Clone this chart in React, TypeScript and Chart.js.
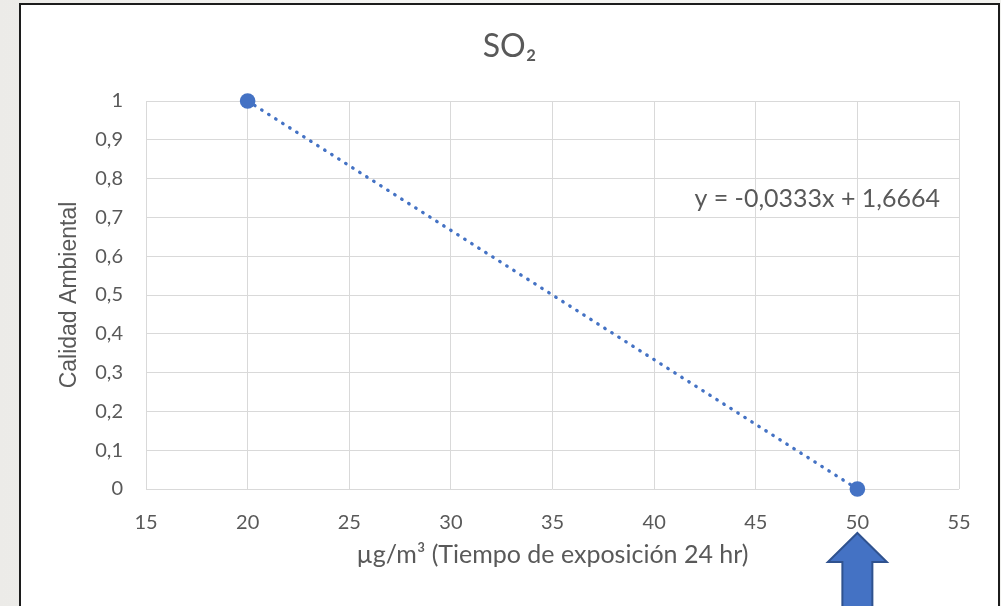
import React, { useEffect, useRef } from 'react';
import { Chart, registerables } from 'chart.js';

Chart.register(...registerables);

const chartTitle = 'SO₂';
const xAxisTitle = 'µg/m³ (Tiempo de exposición 24 hr)';
const yAxisTitle = 'Calidad Ambiental';
const xValues = [20, 50];
const yValues = [1, 0];
const xMin = 15;
const xMax = 55;
const xStep = 5;
const yMin = 0;
const yMax = 1;
const yStep = 0.1;
const equationLabel = 'y = -0,0333x + 1,6664';
const arrowTarget = 50;

const TEXT = '#595959';
const GRID = '#d9d9d9';
const BLUE = '#4472c4';
const FONT = 'Lato, "Open Sans", sans-serif';

const CANVAS_W = 977;
const CANVAS_H = 601;

const fmt = (v: number) => String(Math.round(v * 10) / 10).replace('.', ',');

const extrasPlugin = {
  id: 'extras',
  afterDraw(chart: any) {
    const { ctx, chartArea, scales } = chart;
    ctx.save();
    // chart title, centred on the whole chart box
    ctx.font = `32px ${FONT}`;
    ctx.fillStyle = TEXT;
    ctx.textAlign = 'center';
    ctx.textBaseline = 'middle';
    ctx.fillText(chartTitle, chart.width / 2, 42);
    // equation label
    ctx.font = `25px ${FONT}`;
    ctx.textAlign = 'right';
    ctx.fillText(equationLabel, chartArea.right - 19, chartArea.top + 98);
    // arrow
    const x = scales.x.getPixelForValue(arrowTarget);
    const tipY = chartArea.bottom + 44;
    const headY = tipY + 29;
    const headHalf = 29.5;
    const shaftHalf = 15;
    const bottom = chart.height + 6;
    ctx.beginPath();
    ctx.moveTo(x, tipY);
    ctx.lineTo(x + headHalf, headY);
    ctx.lineTo(x + shaftHalf, headY);
    ctx.lineTo(x + shaftHalf, bottom);
    ctx.lineTo(x - shaftHalf, bottom);
    ctx.lineTo(x - shaftHalf, headY);
    ctx.lineTo(x - headHalf, headY);
    ctx.closePath();
    ctx.fillStyle = BLUE;
    ctx.fill();
    ctx.lineWidth = 2;
    ctx.strokeStyle = '#2f528f';
    ctx.lineJoin = 'miter';
    ctx.stroke();
    ctx.restore();
  },
};

export default function App() {
  const ref = useRef<HTMLCanvasElement | null>(null);

  useEffect(() => {
    document.body.style.margin = '0';
    const canvas = ref.current;
    if (!canvas) return;
    const chart = new Chart(canvas, {
      type: 'scatter',
      data: {
        datasets: [
          {
            data: xValues.map((x, i) => ({ x, y: yValues[i] })),
            showLine: true,
            clip: false,
            borderColor: BLUE,
            backgroundColor: BLUE,
            borderWidth: 3.3,
            borderDash: [0.5, 7.8],
            borderCapStyle: 'round',
            pointRadius: 7.8,
            pointHoverRadius: 7.8,
            pointBorderWidth: 0,
            pointBackgroundColor: BLUE,
          } as any,
        ],
      },
      options: {
        responsive: false,
        animation: false,
        events: [],
        layout: { padding: { left: 0, right: 39, top: 96, bottom: 0 } },
        plugins: {
          legend: { display: false },
          tooltip: { enabled: false },
          title: { display: false },
        },
        scales: {
          x: {
            type: 'linear',
            min: xMin,
            max: xMax,
            ticks: {
              stepSize: xStep,
              color: TEXT,
              font: { family: FONT, size: 20 },
              padding: 22,
              maxRotation: 0,
            },
            grid: { color: GRID, lineWidth: 1, drawTicks: false },
            border: { display: false },
            title: {
              display: true,
              text: xAxisTitle,
              color: TEXT,
              font: { family: FONT, size: 25 },
              padding: { top: 0, bottom: 36 },
            },
            afterFit: (s: any) => {
              s.height = 117;
            },
          },
          y: {
            type: 'linear',
            min: yMin,
            max: yMax,
            ticks: {
              stepSize: yStep,
              color: TEXT,
              font: { family: FONT, size: 20 },
              padding: 23,
              callback: (v: any) => fmt(Number(v)),
            },
            grid: { color: GRID, lineWidth: 1, drawTicks: false },
            border: { display: false },
            title: {
              display: true,
              text: yAxisTitle,
              color: TEXT,
              font: { family: '"Liberation Sans", Arial, sans-serif', size: 23 },
              padding: { top: 35, bottom: 0 },
            },
            afterFit: (s: any) => {
              s.width = 125;
            },
          },
        },
      } as any,
      plugins: [extrasPlugin],
    });
    return () => chart.destroy();
  }, []);

  return (
    <div
      style={{
        position: 'relative',
        width: 1001,
        height: 606,
        overflow: 'hidden',
        background: 'linear-gradient(90deg, #ecebe8 0%, #f4f4f2 40%, #f1f1ee 100%)',
      }}
    >
      <div
        style={{
          position: 'absolute',
          left: 19,
          top: 3,
          width: 981,
          height: 620,
          boxSizing: 'border-box',
          border: '2px solid #1c1c1c',
          background: '#ffffff',
        }}
      >
        <canvas ref={ref} width={CANVAS_W} height={CANVAS_H} style={{ display: 'block' }} />
      </div>
    </div>
  );
}
